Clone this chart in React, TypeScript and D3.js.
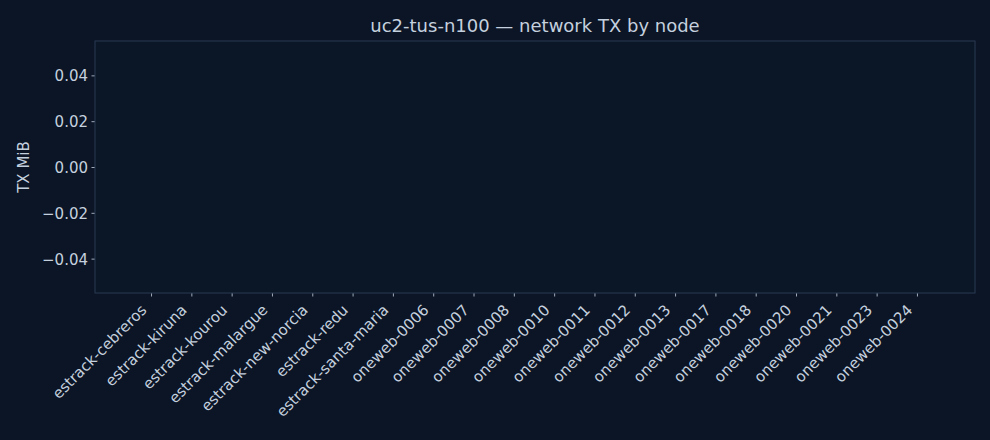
import { useEffect, useRef } from "react";
import * as d3 from "d3";

const nodes = [
  "estrack-cebreros",
  "estrack-kiruna",
  "estrack-kourou",
  "estrack-malargue",
  "estrack-new-norcia",
  "estrack-redu",
  "estrack-santa-maria",
  "oneweb-0006",
  "oneweb-0007",
  "oneweb-0008",
  "oneweb-0010",
  "oneweb-0011",
  "oneweb-0012",
  "oneweb-0013",
  "oneweb-0017",
  "oneweb-0018",
  "oneweb-0020",
  "oneweb-0021",
  "oneweb-0023",
  "oneweb-0024",
];

// every node sent nothing in this run
const txMiB = [0, 0, 0, 0, 0, 0, 0, 0, 0, 0, 0, 0, 0, 0, 0, 0, 0, 0, 0, 0];

const yTicks = [-0.04, -0.02, 0, 0.02, 0.04];

export default function App() {
  const svgRef = useRef<SVGSVGElement>(null);

  useEffect(() => {
    if (!svgRef.current) return;

    const svg = d3.select(svgRef.current);
    const width = 990;
    const height = 440;
    const margin = { top: 41, right: 15, bottom: 147, left: 95 };
    const textColor = "#c5d0de";
    const spineColor = "#2a3a52";
    const font = "'DejaVu Sans', sans-serif";

    svg.selectAll("*").remove();
    svg.attr("width", width).attr("height", height);

    svg
      .append("rect")
      .attr("width", width)
      .attr("height", height)
      .attr("fill", "#0b1526");

    const plotW = width - margin.left - margin.right;
    const plotH = height - margin.top - margin.bottom;

    const xScale = d3
      .scaleLinear()
      .domain([-1.39, nodes.length - 1 + 1.44])
      .range([margin.left, width - margin.right]);

    const yScale = d3
      .scaleLinear()
      .domain([-0.055, 0.055])
      .range([height - margin.bottom, margin.top]);

    // Axes background
    svg
      .append("rect")
      .attr("x", margin.left)
      .attr("y", margin.top)
      .attr("width", plotW)
      .attr("height", plotH)
      .attr("fill", "#0b1627");

    // Bars (all zero height)
    svg
      .selectAll("rect.bar")
      .data(txMiB)
      .enter()
      .append("rect")
      .attr("class", "bar")
      .attr("x", (_, i) => xScale(i - 0.4))
      .attr("width", xScale(0.8) - xScale(0))
      .attr("y", (d) => Math.min(yScale(d), yScale(0)))
      .attr("height", (d) => Math.abs(yScale(d) - yScale(0)))
      .attr("fill", "#4c9be8");

    // Y axis
    const yAxis = svg
      .append("g")
      .attr("transform", `translate(${margin.left},0)`)
      .call(
        d3
          .axisLeft(yScale)
          .tickValues(yTicks)
          .tickSize(3.5)
          .tickPadding(3.5)
          .tickFormat((d) => d3.format(".2f")(d as number).replace("-", "\u2212"))
      );
    yAxis.attr("font-family", font).attr("font-size", 15);
    yAxis.select(".domain").remove();
    yAxis.selectAll("text").attr("fill", textColor).attr("dy", "0.36em");
    yAxis.selectAll("line").attr("stroke", textColor).attr("stroke-width", 0.8);

    // X axis
    const xAxis = svg
      .append("g")
      .attr("transform", `translate(0,${height - margin.bottom})`)
      .call(
        d3
          .axisBottom(xScale)
          .tickValues(d3.range(nodes.length))
          .tickSize(3.5)
          .tickFormat((d) => nodes[d as number])
      );
    xAxis.attr("font-family", font).attr("font-size", 15);
    xAxis.select(".domain").remove();
    xAxis.selectAll("line").attr("stroke", textColor).attr("stroke-width", 0.8);
    xAxis
      .selectAll("text")
      .attr("fill", textColor)
      .attr("dy", null)
      .attr("y", null)
      .attr("text-anchor", "end")
      .attr("transform", "translate(-4,18) rotate(-45)");

    // Spines
    svg
      .append("rect")
      .attr("x", margin.left)
      .attr("y", margin.top)
      .attr("width", plotW)
      .attr("height", plotH)
      .attr("fill", "none")
      .attr("stroke", spineColor)
      .attr("stroke-width", 1);

    // Y label
    svg
      .append("text")
      .attr("transform", `translate(29,${(margin.top + height - margin.bottom) / 2}) rotate(-90)`)
      .attr("text-anchor", "middle")
      .attr("fill", textColor)
      .attr("font-size", 15)
      .attr("font-family", font)
      .text("TX MiB");

    // Title
    svg
      .append("text")
      .attr("x", margin.left + plotW / 2)
      .attr("y", 32)
      .attr("text-anchor", "middle")
      .attr("fill", textColor)
      .attr("font-size", 18)
      .attr("font-family", font)
      .text("uc2-tus-n100 \u2014 network TX by node");
  }, []);

  return (
    <div style={{ position: "absolute", left: 0, top: 0 }}>
      <svg ref={svgRef} style={{ display: "block" }}></svg>
    </div>
  );
}
